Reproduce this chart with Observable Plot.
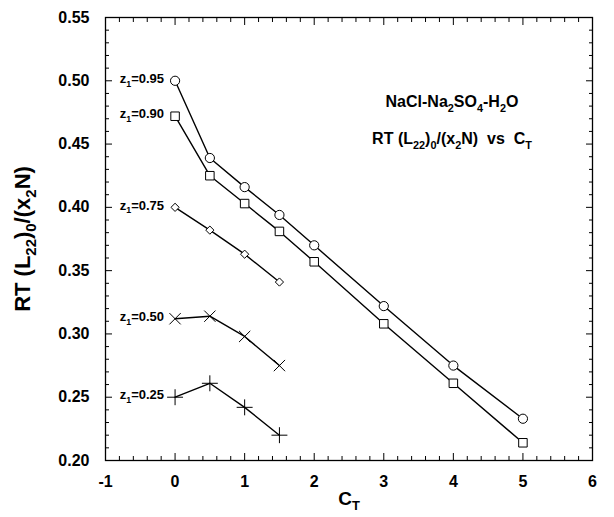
<!DOCTYPE html>
<html><head><meta charset="utf-8">
<script src="https://cdn.jsdelivr.net/npm/d3@7"></script>
<script src="https://cdn.jsdelivr.net/npm/@observablehq/plot@0.6"></script>
<style>html,body{margin:0;padding:0;background:#fff}</style>
</head><body><div id="chart"></div>
<script>
// ---- data ----
const ct = [0, 0.5, 1, 1.5, 2, 3, 4, 5];
const z095 = [0.500, 0.439, 0.416, 0.394, 0.370, 0.322, 0.275, 0.233];
const z090 = [0.472, 0.425, 0.403, 0.381, 0.357, 0.308, 0.261, 0.214];
const z075 = [0.400, 0.382, 0.363, 0.341];
const z050 = [0.312, 0.314, 0.298, 0.275];
const z025 = [0.250, 0.261, 0.242, 0.220];
const seriesNames = ["0.95", "0.90", "0.75", "0.50", "0.25"];
const seriesValues = [z095, z090, z075, z050, z025];
const xTicks = [-1, 0, 1, 2, 3, 4, 5, 6];
const yTicks = [0.20, 0.25, 0.30, 0.35, 0.40, 0.45, 0.50, 0.55];
const titleLines = ["NaCl-Na_{2}SO_{4}-H_{2}O", "RT (L_{22})_{0}/(x_{2}N)  vs  C_{T}"];
const xLabel = "C_{T}";
const yLabel = "RT (L_{22})_{0}/(x_{2}N)";

// ---- build table ----
const rows = seriesValues.flatMap((vals, i) => vals.map((v, j) => ({x: ct[j], y: v, z: seriesNames[i]})));
const firstPoints = seriesValues.map((vals, i) => ({x: ct[0], y: vals[0], label: "z_{1}=" + seriesNames[i]}));
const symbolOf = {"0.95": ["circle", 4.6], "0.90": ["square", 4.8], "0.75": ["diamond2", 3.7], "0.50": ["times", 5.2], "0.25": ["plus", 5.2]};

const xMinor = d3.range(-1, 6.0001, 0.2).filter(v => Math.abs(v - Math.round(v)) > 1e-6);
const yMinor = d3.range(0.20, 0.5501, 0.01).filter(v => Math.abs(v * 20 - Math.round(v * 20)) > 1e-6);

const font = "'Liberation Sans', Arial, sans-serif";
const tickFont = {fontSize: 16, fontWeight: "bold", fontFamily: font, fill: "black"};
const MAJ = 7, MIN = 4;

const tickX = (vals, a, len) => Plot.axisX(vals, {anchor: a, tickSize: len, dy: a === "bottom" ? -len : len, tickFormat: () => "", label: null, strokeWidth: 1});
const tickY = (vals, a, len) => Plot.axisY(vals, {anchor: a, tickSize: len, dx: a === "left" ? len : -len, tickFormat: () => "", label: null, strokeWidth: 1});

const marks = [
  ...["bottom", "top"].flatMap(a => [tickX(xTicks, a, MAJ), tickX(xMinor, a, MIN)]),
  ...["left", "right"].flatMap(a => [tickY(yTicks, a, MAJ), tickY(yMinor, a, MIN)]),
  Plot.axisX(xTicks, {anchor: "bottom", tickSize: 0, tickPadding: 15, tickFormat: d => String(d), label: null, ...tickFont}),
  Plot.axisY(yTicks, {anchor: "left", tickSize: 0, tickPadding: 16, tickFormat: d3.format(".2f"), label: null, ...tickFont}),
  Plot.frame({stroke: "black", strokeWidth: 1.3}),
  Plot.line(rows, {x: "x", y: "y", z: "z", stroke: "black", strokeWidth: 1.4}),
  ...seriesNames.map(n => Plot.dot(rows.filter(d => d.z === n), {
    x: "x", y: "y", symbol: symbolOf[n][0], r: symbolOf[n][1], stroke: "black", strokeWidth: 1,
    fill: (symbolOf[n][0] === "times" || symbolOf[n][0] === "plus") ? "none" : "white"
  })),
  Plot.text(firstPoints, {x: "x", y: "y", text: "label", textAnchor: "end", dx: -11, dy: -2, fontSize: 13, fontWeight: "bold", fontFamily: font}),
  Plot.text([titleLines[0]], {frameAnchor: "top", textAnchor: "middle", dx: 103, dy: 78, text: d => d, fontSize: 16, fontWeight: "bold", fontFamily: font}),
  Plot.text([titleLines[1]], {frameAnchor: "top", textAnchor: "middle", dx: 103, dy: 115, text: d => d, fontSize: 16, fontWeight: "bold", fontFamily: font}),
  Plot.text([xLabel], {frameAnchor: "bottom", textAnchor: "middle", dy: 44, text: d => d, fontSize: 19, fontWeight: "bold", fontFamily: font}),
  Plot.text([yLabel], {frameAnchor: "left", textAnchor: "middle", dx: -83, rotate: -90, text: d => d, fontSize: 22, fontWeight: "bold", fontFamily: font})
];

const chart = Plot.plot({
  width: 614, height: 517,
  marginLeft: 105, marginRight: 22, marginTop: 17, marginBottom: 57,
  x: {domain: [-1, 6], axis: null},
  y: {domain: [0.20, 0.55], axis: null},
  style: {fontFamily: font, background: "white", color: "black"},
  marks
});
document.getElementById("chart").appendChild(chart);

// turn _{...} into real subscripts
chart.querySelectorAll("text").forEach(t => {
  const s = t.textContent;
  if (!s.includes("_{")) return;
  const fs = parseFloat(getComputedStyle(t).fontSize) || 12;
  const parts = [];
  const re = /_\{([^}]*)\}/g;
  let last = 0, m;
  while ((m = re.exec(s))) {
    if (m.index > last) parts.push({t: s.slice(last, m.index), sub: false});
    parts.push({t: m[1], sub: true});
    last = re.lastIndex;
  }
  if (last < s.length) parts.push({t: s.slice(last), sub: false});
  t.textContent = "";
  let shifted = 0;
  for (const p of parts) {
    const ts = document.createElementNS("http://www.w3.org/2000/svg", "tspan");
    const target = p.sub ? fs * 0.3 : 0;
    const dy = target - shifted;
    if (dy) ts.setAttribute("dy", dy);
    shifted = target;
    if (p.sub) ts.setAttribute("font-size", fs * 0.68);
    ts.style.whiteSpace = "pre";
    ts.textContent = p.t;
    t.appendChild(ts);
  }
});
</script>
</body></html>
